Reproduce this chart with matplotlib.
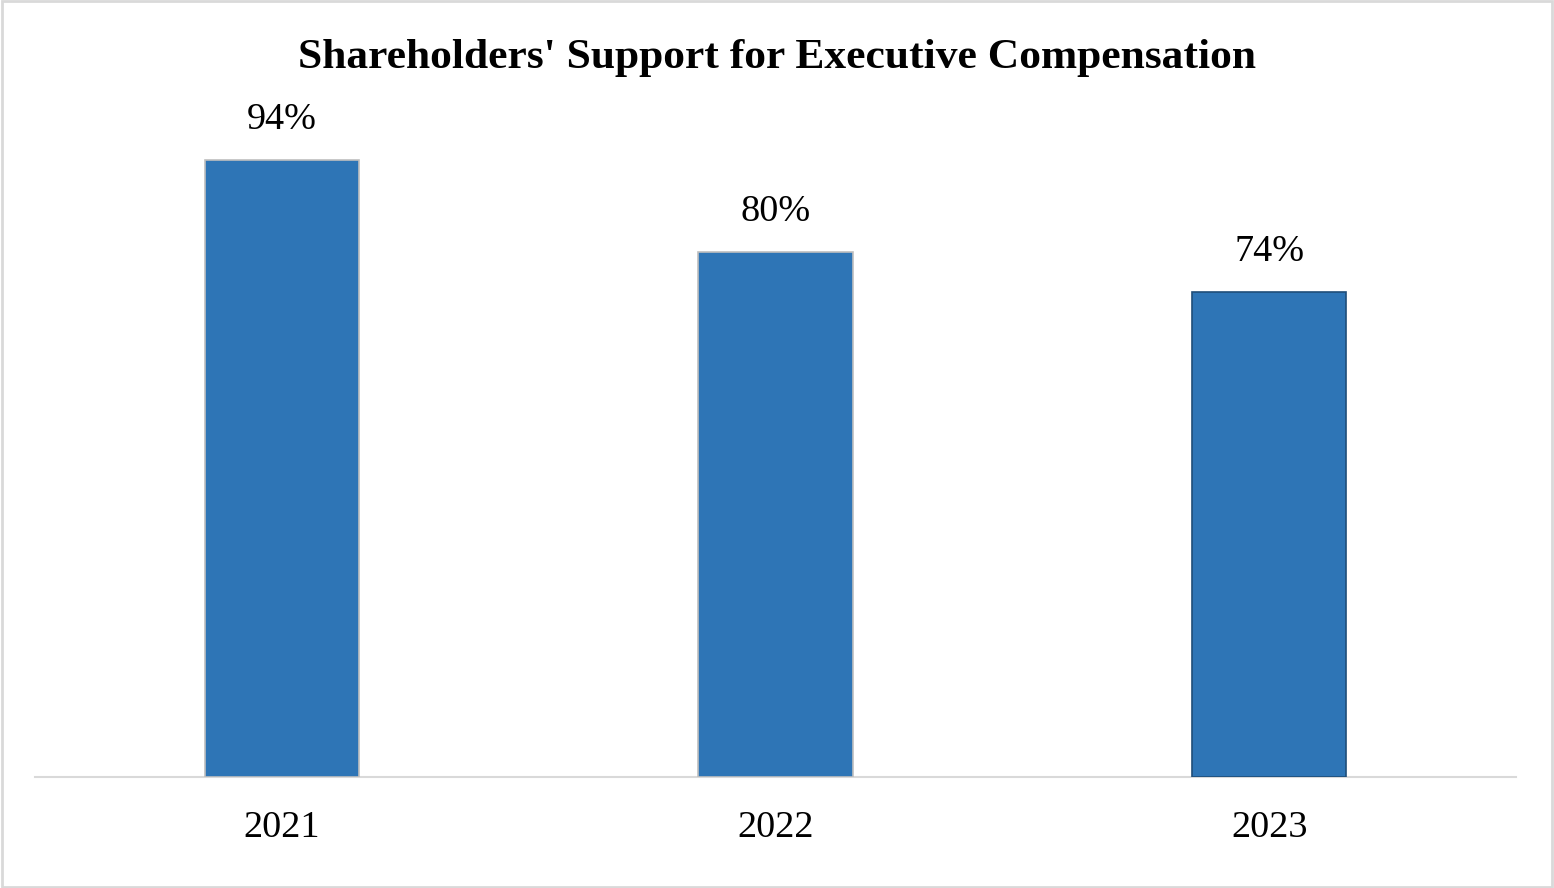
import matplotlib
matplotlib.use("Agg")
import matplotlib.pyplot as plt
from matplotlib.patches import Rectangle

years = ["2021", "2022", "2023"]
support = [94, 80, 74]
edge_colors = ["#bfbfbf", "#bfbfbf", "#1f4e79"]

plt.rcParams['font.family'] = ['Liberation Serif', 'DejaVu Serif']

fig = plt.figure(figsize=(15.54, 8.88), dpi=100)
ax = fig.add_axes([35/1554, 111/888, 1481/1554, 656/888])

x = list(range(len(years)))
bars = ax.bar(x, support, width=0.312, color="#2e75b6", edgecolor=edge_colors, linewidth=1.2, zorder=3)
ax.set_xlim(-0.5, 2.5)
ax.set_ylim(0, 100)

for xi, v in zip(x, support):
    ax.annotate(f"{v}%", (xi, v), xytext=(0, 29), textcoords="offset points",
                ha="center", va="center", fontsize=27.5, color="black")

ax.set_xticks(x)
ax.set_xticklabels(years, fontsize=27.5)
ax.tick_params(axis="x", length=0, pad=24)
ax.set_yticks([])
for s in ["top", "right", "left"]:
    ax.spines[s].set_visible(False)
ax.spines["bottom"].set_color("#d9d9d9")
ax.spines["bottom"].set_linewidth(1.5)

fig.text(0.5, 1 - 58/888, "Shareholders' Support for Executive Compensation",
         ha="center", va="center", fontsize=31.3, fontweight="bold")

fig.patches.append(Rectangle((0.001, 0.001), 0.998, 0.998, transform=fig.transFigure,
                             fill=False, edgecolor="#d9d9d9", linewidth=2))

fig.savefig("out.png", dpi=100)
